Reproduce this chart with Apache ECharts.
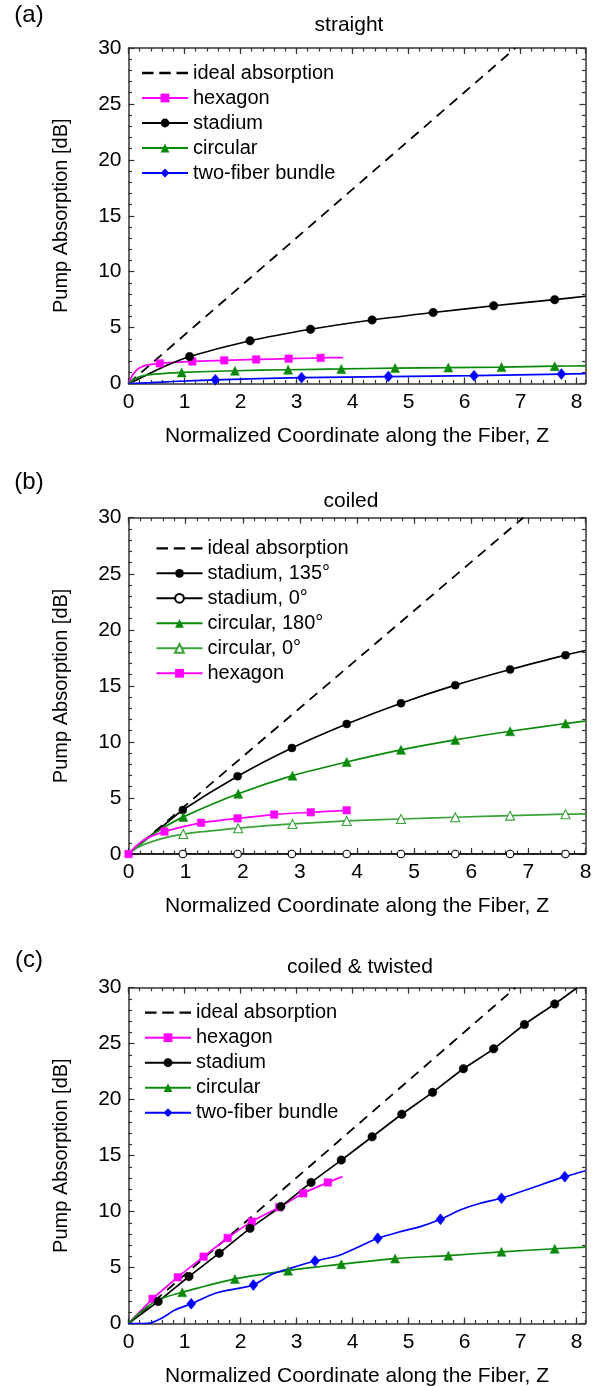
<!DOCTYPE html>
<html>
<head>
<meta charset="utf-8">
<title>Pump Absorption</title>
<script src="https://cdn.jsdelivr.net/npm/echarts@6/dist/echarts.min.js"></script>
<style>
* { margin: 0; padding: 0; }
body { background: #fff; }
#main { width: 597px; height: 1386px; }
</style>
</head>
<body>
<div id="main"></div>
<script>
const panelTitles = ['straight', 'coiled', 'coiled & twisted'];
const panelTags = ['(a)', '(b)', '(c)'];
const xMax = [8.16, 8, 8.16];
const yMax = 30;
const xName = 'Normalized Coordinate along the Fiber, Z';
const yName = 'Pump Absorption [dB]';

// ideal absorption, same dashed line in all three panels
const ideal = [[0, 0], [6.91, 30]];

// (a) straight
const aHexCurve = [[0, 0], [0.05, 0.55], [0.1, 0.95], [0.2, 1.4], [0.35, 1.66], [0.56, 1.8], [1.14, 1.97], [1.71, 2.07], [2.28, 2.15], [2.86, 2.22], [3.43, 2.29], [3.83, 2.32]];
const aHexMarks = [[0.56, 1.8], [1.14, 1.97], [1.71, 2.07], [2.28, 2.15], [2.86, 2.22], [3.43, 2.29]];
const aStadCurve = [[0, 0], [0.2, 0.45], [0.4, 0.95], [0.7, 1.65], [1.09, 2.41], [2.17, 3.82], [3.25, 4.85], [4.35, 5.68], [5.44, 6.35], [6.52, 6.95], [7.61, 7.5], [8.16, 7.8]];
const aStadMarks = [[1.09, 2.41], [2.17, 3.82], [3.25, 4.85], [4.35, 5.68], [5.44, 6.35], [6.52, 6.95], [7.61, 7.5]];
const aCircCurve = [[0, 0], [0.12, 0.45], [0.3, 0.74], [0.6, 0.88], [0.95, 0.99], [1.9, 1.14], [2.85, 1.23], [3.8, 1.3], [4.76, 1.38], [5.71, 1.42], [6.66, 1.47], [7.61, 1.55], [8.16, 1.58]];
const aCircMarks = [[0.95, 0.99], [1.9, 1.14], [2.85, 1.23], [3.8, 1.3], [4.76, 1.38], [5.71, 1.42], [6.66, 1.47], [7.61, 1.55]];
const aBundCurve = [[0, 0], [0.4, 0.08], [0.8, 0.18], [1.55, 0.33], [3.09, 0.52], [4.64, 0.62], [6.17, 0.7], [7.73, 0.84], [8.16, 0.88]];
const aBundMarks = [[1.55, 0.33], [3.09, 0.52], [4.64, 0.62], [6.17, 0.7], [7.73, 0.84]];

// (b) coiled
const bStad135Curve = [[0, 0], [0.3, 1.3], [0.58, 2.4], [0.95, 3.92], [1.91, 6.94], [2.86, 9.46], [3.82, 11.6], [4.77, 13.45], [5.72, 15.06], [6.68, 16.46], [7.65, 17.74], [8, 18.15]];
const bStad135Marks = [[0.95, 3.92], [1.91, 6.94], [2.86, 9.46], [3.82, 11.6], [4.77, 13.45], [5.72, 15.06], [6.68, 16.46], [7.65, 17.74]];
const bStad0Curve = [[0, 0], [0.95, 0], [1.91, 0], [2.86, 0], [3.82, 0], [4.77, 0], [5.72, 0], [6.68, 0], [7.65, 0], [8, 0]];
const bStad0Marks = [[0.95, 0], [1.91, 0], [2.86, 0], [3.82, 0], [4.77, 0], [5.72, 0], [6.68, 0], [7.65, 0]];
const bCirc180Curve = [[0, 0], [0.3, 1.25], [0.58, 2.25], [0.96, 3.31], [1.92, 5.37], [2.87, 6.99], [3.82, 8.21], [4.77, 9.29], [5.72, 10.18], [6.68, 10.95], [7.65, 11.64], [8, 11.85]];
const bCirc180Marks = [[0.96, 3.31], [1.92, 5.37], [2.87, 6.99], [3.82, 8.21], [4.77, 9.29], [5.72, 10.18], [6.68, 10.95], [7.65, 11.64]];
const bCirc0Curve = [[0, 0], [0.15, 0.55], [0.3, 0.9], [0.6, 1.4], [0.96, 1.78], [1.92, 2.3], [2.87, 2.68], [3.82, 2.95], [4.77, 3.12], [5.72, 3.28], [6.68, 3.42], [7.65, 3.55], [8, 3.58]];
const bCirc0Marks = [[0.96, 1.78], [1.92, 2.3], [2.87, 2.68], [3.82, 2.95], [4.77, 3.12], [5.72, 3.28], [6.68, 3.42], [7.65, 3.55]];
const bHexCurve = [[0, 0], [0.15, 0.8], [0.3, 1.35], [0.63, 2.0], [1.27, 2.78], [1.91, 3.18], [2.55, 3.52], [3.19, 3.72], [3.82, 3.9]];
const bHexMarks = [[0, 0], [0.63, 2.0], [1.27, 2.78], [1.91, 3.18], [2.55, 3.52], [3.19, 3.72], [3.82, 3.9]];

// (c) coiled & twisted
const cHexCurve = [[0, 0], [0.43, 2.2], [0.88, 4.13], [1.34, 5.97], [1.77, 7.64], [2.2, 9.1], [2.69, 10.38], [3.12, 11.63], [3.56, 12.6], [3.82, 13.12]];
const cHexMarks = [[0.43, 2.2], [0.88, 4.13], [1.34, 5.97], [1.77, 7.64], [2.2, 9.1], [2.69, 10.38], [3.12, 11.63], [3.56, 12.6]];
const cStadCurve = [[0, 0], [0.53, 1.97], [1.08, 4.2], [1.62, 6.28], [2.17, 8.5], [2.72, 10.45], [3.26, 12.6], [3.8, 14.6], [4.35, 16.68], [4.88, 18.69], [5.43, 20.65], [5.98, 22.76], [6.52, 24.54], [7.07, 26.71], [7.61, 28.55], [8.01, 30]];
const cStadMarks = [[0.53, 1.97], [1.08, 4.2], [1.62, 6.28], [2.17, 8.5], [2.72, 10.45], [3.26, 12.6], [3.8, 14.6], [4.35, 16.68], [4.88, 18.69], [5.43, 20.65], [5.98, 22.76], [6.52, 24.54], [7.07, 26.71], [7.61, 28.55]];
const cCircCurve = [[0, 0], [0.2, 0.95], [0.41, 1.75], [0.6, 2.25], [0.96, 2.79], [1.9, 3.98], [2.85, 4.72], [3.8, 5.3], [4.76, 5.8], [5.71, 6.06], [6.66, 6.4], [7.61, 6.68], [8.16, 6.82]];
const cCircMarks = [[0.96, 2.79], [1.9, 3.98], [2.85, 4.72], [3.8, 5.3], [4.76, 5.8], [5.71, 6.06], [6.66, 6.4], [7.61, 6.68]];
const cBundCurve = [[0, 0], [0.25, 0], [0.4, 0.05], [0.59, 0.46], [0.83, 1.2], [1.12, 1.76], [1.55, 2.7], [1.96, 3.14], [2.23, 3.44], [2.56, 4.4], [2.9, 4.95], [3.33, 5.58], [3.78, 6.12], [4.45, 7.61], [4.85, 8.2], [5.21, 8.65], [5.57, 9.31], [5.92, 10.14], [6.28, 10.74], [6.66, 11.19], [7.25, 12.2], [7.79, 13.12], [8.16, 13.65]];
const cBundMarks = [[1.12, 1.76], [2.23, 3.44], [3.33, 5.58], [4.45, 7.61], [5.57, 9.31], [6.66, 11.19], [7.79, 13.12]];

const MAGENTA = '#ff00ff', BLACK = '#000000', GREEN = '#0a8a0a', LGREEN = '#3aa33a', BLUE = '#0000ff';

const panels = [
	[
		{ name: 'hexagon', color: MAGENTA, symbol: 'rect', size: 7.5, curve: aHexCurve, marks: aHexMarks },
		{ name: 'stadium', color: BLACK, symbol: 'circle', size: 8.5, curve: aStadCurve, marks: aStadMarks },
		{ name: 'circular', color: GREEN, symbol: 'triangle', size: 9, curve: aCircCurve, marks: aCircMarks },
		{ name: 'two-fiber bundle', color: BLUE, symbol: 'diamond', size: [9, 11], curve: aBundCurve, marks: aBundMarks }
	],
	[
		{ name: 'stadium, 135°', color: BLACK, symbol: 'circle', size: 8, curve: bStad135Curve, marks: bStad135Marks },
		{ name: 'stadium, 0°', color: BLACK, symbol: 'emptyCircle', size: 7.5, curve: bStad0Curve, marks: bStad0Marks },
		{ name: 'circular, 180°', color: GREEN, symbol: 'triangle', size: 9, curve: bCirc180Curve, marks: bCirc180Marks },
		{ name: 'circular, 0°', color: LGREEN, symbol: 'emptyTriangle', size: 9, curve: bCirc0Curve, marks: bCirc0Marks },
		{ name: 'hexagon', color: MAGENTA, symbol: 'rect', size: 7.5, curve: bHexCurve, marks: bHexMarks }
	],
	[
		{ name: 'hexagon', color: MAGENTA, symbol: 'rect', size: 7.5, curve: cHexCurve, marks: cHexMarks },
		{ name: 'stadium', color: BLACK, symbol: 'circle', size: 8.5, curve: cStadCurve, marks: cStadMarks },
		{ name: 'circular', color: GREEN, symbol: 'triangle', size: 9, curve: cCircCurve, marks: cCircMarks },
		{ name: 'two-fiber bundle', color: BLUE, symbol: 'diamond', size: [9, 11], curve: cBundCurve, marks: cBundMarks }
	]
];

const gridBox = [
	{ top: 48, height: 335.5 },
	{ top: 517.7, height: 336.3 },
	{ top: 987.7, height: 335.8 }
];
const titlePos = [[349, 14.5], [351, 491.2], [360, 956.5]];
const tagTop = [3, 470, 948];
const legendPos = [[141, 63], [155.5, 538.3], [144, 1002.7]];

const FONT = 'Liberation Sans, Arial, sans-serif';
const AXIS_COLOR = '#333';
const DASH_ICON = 'path://M0 0H10V2H0ZM15 0H25V2H15ZM30 0H40V2H30Z';

let myChart = echarts.init(document.getElementById('main'));

function fresh() {
	let grid = [], xAxis = [], yAxis = [], series = [], legend = [], title = [];

	panels.forEach((list, p) => {
		grid.push({
			left: 128.5, width: 457, top: gridBox[p].top, height: gridBox[p].height,
			containLabel: false, outerBoundsMode: 'none'
		});

		// x axes: bottom major, bottom minor, top major, top minor
		['bottom', 'top'].forEach(pos => {
			[1, 0.2].forEach(step => {
				const major = step === 1;
				const main = pos === 'bottom' && major;
				xAxis.push({
					type: 'value', gridIndex: p, position: pos,
					min: 0, max: xMax[p], interval: step,
					name: main ? xName : '',
					nameLocation: 'middle', nameGap: 42, nameMoveOverlap: false,
					nameTextStyle: { color: '#000', fontSize: 21, fontFamily: FONT },
					axisLine: { show: major, onZero: false, lineStyle: { color: AXIS_COLOR, width: 1.5 } },
					axisTick: { show: true, inside: true, length: major ? 6 : 3.5, lineStyle: { color: AXIS_COLOR, width: 1.2 } },
					axisLabel: {
						show: main, margin: 8, color: '#000', fontSize: 21, fontFamily: FONT,
						showMaxLabel: Number.isInteger(xMax[p]), showMinLabel: true
					},
					splitLine: { show: false }
				});
			});
		});

		// y axes: left (labels), right (mirror)
		['left', 'right'].forEach(pos => {
			const main = pos === 'left';
			yAxis.push({
				type: 'value', gridIndex: p, position: pos,
				min: 0, max: yMax, interval: 5,
				name: main ? yName : '',
				nameLocation: 'middle', nameGap: 57, nameRotate: 90, nameMoveOverlap: false,
				nameTextStyle: { color: '#000', fontSize: 20, fontFamily: FONT },
				axisLine: { show: true, onZero: false, lineStyle: { color: AXIS_COLOR, width: 1.5 } },
				axisTick: { show: true, inside: true, length: 6, lineStyle: { color: AXIS_COLOR, width: 1.2 } },
				minorTick: { show: true, splitNumber: 5, length: 3.5, lineStyle: { color: AXIS_COLOR, width: 1.2 } },
				axisLabel: { show: main, margin: 7, color: '#000', fontSize: 21, fontFamily: FONT },
				splitLine: { show: false }
			});
		});

		const xi = p * 4, yi = p * 2;

		series.push({
			name: 'ideal absorption', type: 'line', xAxisIndex: xi, yAxisIndex: yi,
			data: ideal, symbol: 'none', clip: true, z: 3,
			lineStyle: { color: BLACK, width: 1.8, type: [10, 7] },
			itemStyle: { color: BLACK }
		});

		list.forEach(s => {
			const hollow = s.symbol.indexOf('empty') === 0;
			series.push({
				name: s.name, type: 'line', xAxisIndex: xi, yAxisIndex: yi,
				data: s.curve, smooth: 0.25,
				symbol: s.symbol, showSymbol: false, clip: true, z: 4,
				lineStyle: { color: s.color, width: 1.7 },
				itemStyle: { color: s.color }
			});
			series.push({
				name: s.name, type: 'scatter', xAxisIndex: xi, yAxisIndex: yi,
				data: s.marks, symbol: hollow ? s.symbol.replace('empty', '').toLowerCase() : s.symbol,
				symbolSize: s.size, clip: false, z: 5,
				itemStyle: hollow
					? { color: '#fff', borderColor: s.color, borderWidth: 1.1, opacity: 1 }
					: { color: s.color, borderColor: s.color, borderWidth: 0.5, opacity: 1 }
			});
		});

		legend.push({
			orient: 'vertical', left: legendPos[p][0], top: legendPos[p][1],
			padding: 0, itemGap: 5, itemWidth: 46, itemHeight: 11,
			selectedMode: false,
			textStyle: { color: '#000', fontSize: 20, fontFamily: FONT, lineHeight: 20 },
			data: [{ name: 'ideal absorption', icon: DASH_ICON }].concat(list.map(s => ({ name: s.name })))
		});

		title.push({
			text: panelTitles[p], left: titlePos[p][0], top: titlePos[p][1], textAlign: 'center', padding: 0,
			textStyle: { color: '#000', fontSize: 21, fontWeight: 'normal', fontFamily: FONT, lineHeight: 21 }
		});
		title.push({
			text: panelTags[p], left: 29, top: tagTop[p], textAlign: 'center', padding: 0,
			textStyle: { color: '#000', fontSize: 24, fontWeight: 'normal', fontFamily: FONT, lineHeight: 24 }
		});
	});

	let option = {
		backgroundColor: '#fff',
		animation: false,
		title: title,
		legend: legend,
		grid: grid,
		xAxis: xAxis,
		yAxis: yAxis,
		series: series
	};
	myChart.setOption(option);
}
fresh();
</script>
</body>
</html>
